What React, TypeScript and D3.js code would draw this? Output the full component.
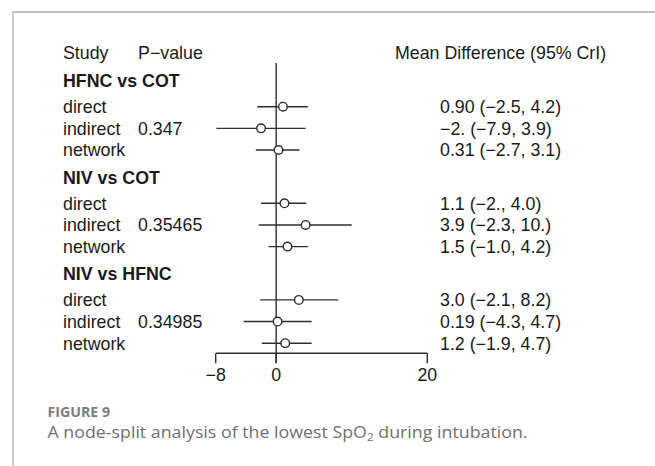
import React from "react";
import * as d3 from "d3";

const groups = ["HFNC vs COT", "NIV vs COT", "NIV vs HFNC"];
const studies = ["direct", "indirect", "network"];
const pValues = ["0.347", "0.35465", "0.34985"];
const means = [0.9, -2.0, 0.31, 1.1, 3.9, 1.5, 3.0, 0.19, 1.2];
const lowers = [-2.5, -7.9, -2.7, -2.0, -2.3, -1.0, -2.1, -4.3, -1.9];
const uppers = [4.2, 3.9, 3.1, 4.0, 10.0, 4.2, 8.2, 4.7, 4.7];
const estLabels = [
  "0.90 (\u22122.5, 4.2)",
  "\u22122. (\u22127.9, 3.9)",
  "0.31 (\u22122.7, 3.1)",
  "1.1 (\u22122., 4.0)",
  "3.9 (\u22122.3, 10.)",
  "1.5 (\u22121.0, 4.2)",
  "3.0 (\u22122.1, 8.2)",
  "0.19 (\u22124.3, 4.7)",
  "1.2 (\u22121.9, 4.7)",
];
const ticks = [-8, 0, 20];

const W = 655;
const H = 466;
const FONT = "'Liberation Sans', Arial, Helvetica, sans-serif";
const CAPFONT = "'Open Sans', Lato, sans-serif";
const FS = 17.8;
const INK = "#1a1a1a";
const LINE = "#2e2e2e";

export default function App() {
  const x = d3.scaleLinear().domain([-8, 20]).range([215.7, 427.3]);
  const rowStep = 21.65;
  const groupStep = 96.6;
  const firstRow = 106.7;
  const yRow = (g: number, r: number) => firstRow + g * groupStep + r * rowStep;
  const yHeader = (g: number) => yRow(g, 0) - 26;
  const base = 6.4;

  const axisY = 353.3;
  const tickLen = 10;
  const zeroTop = 63;

  const rows: { g: number; r: number; i: number }[] = [];
  groups.forEach((_, g) => studies.forEach((_, r) => rows.push({ g, r, i: g * 3 + r })));

  return (
    <svg
      width={W}
      height={H}
      viewBox={`0 0 ${W} ${H}`}
      style={{ position: "absolute", left: 0, top: 0, background: "#fff" }}
    >
      <rect x={0} y={0} width={W} height={H} fill="#fff" />
      <line x1={13} x2={W} y1={12} y2={12} stroke="#bfbfbf" strokeWidth={2} />
      <line x1={13} x2={13} y1={11} y2={H} stroke="#bfbfbf" strokeWidth={1.6} />

      <g fontFamily={FONT} fontSize={FS} fill={INK}>
        <text x={63} y={yHeader(0) - 28 + base}>Study</text>
        <text x={138} y={yHeader(0) - 28 + base}>P{"\u2212"}value</text>
        <text x={395} y={yHeader(0) - 28 + base}>Mean Difference (95% CrI)</text>

        {groups.map((gname, g) => (
          <text key={gname} x={63} y={yHeader(g) + base} fontWeight="bold">
            {gname}
          </text>
        ))}

        {rows.map(({ g, r, i }) => (
          <g key={i}>
            <text x={63} y={yRow(g, r) + base}>{studies[r]}</text>
            {r === 1 && <text x={138} y={yRow(g, r) + base}>{pValues[g]}</text>}
            <text x={440} y={yRow(g, r) + base}>{estLabels[i]}</text>
          </g>
        ))}
      </g>

      <line x1={x(0)} x2={x(0)} y1={zeroTop} y2={axisY + tickLen} stroke={LINE} strokeWidth={1.4} />

      {rows.map(({ g, r, i }) => (
        <g key={"ci" + i}>
          <line
            x1={x(lowers[i])}
            x2={x(uppers[i])}
            y1={yRow(g, r)}
            y2={yRow(g, r)}
            stroke={LINE}
            strokeWidth={1.4}
          />
          <circle cx={x(means[i])} cy={yRow(g, r)} r={4.3} fill="#fff" stroke={LINE} strokeWidth={1.4} />
        </g>
      ))}

      <line x1={x(-8)} x2={x(20)} y1={axisY} y2={axisY} stroke={LINE} strokeWidth={1.4} />
      {ticks.map((t) => (
        <g key={t}>
          <line x1={x(t)} x2={x(t)} y1={axisY} y2={axisY + tickLen} stroke={LINE} strokeWidth={1.4} />
          <text x={x(t)} y={380.5} textAnchor="middle" fontFamily={FONT} fontSize={FS} fill={INK}>
            {t < 0 ? "\u2212" + Math.abs(t) : String(t)}
          </text>
        </g>
      ))}

      <text
        x={47.5}
        y={417}
        fontFamily={CAPFONT}
        fontWeight="bold"
        fontSize={14}
        fill="#7d7d7d"
        textLength={62.5}
        lengthAdjust="spacingAndGlyphs"
      >
        FIGURE 9
      </text>
      <text
        x={47.5}
        y={437.5}
        fontFamily={CAPFONT}
        fontSize={16.5}
        fill="#6f6f6f"
        textLength={480}
        lengthAdjust="spacingAndGlyphs"
      >
        A node-split analysis of the lowest SpO
        <tspan fontSize={11} dy={3}>2</tspan>
        <tspan dy={-3}> during intubation.</tspan>
      </text>
    </svg>
  );
}
